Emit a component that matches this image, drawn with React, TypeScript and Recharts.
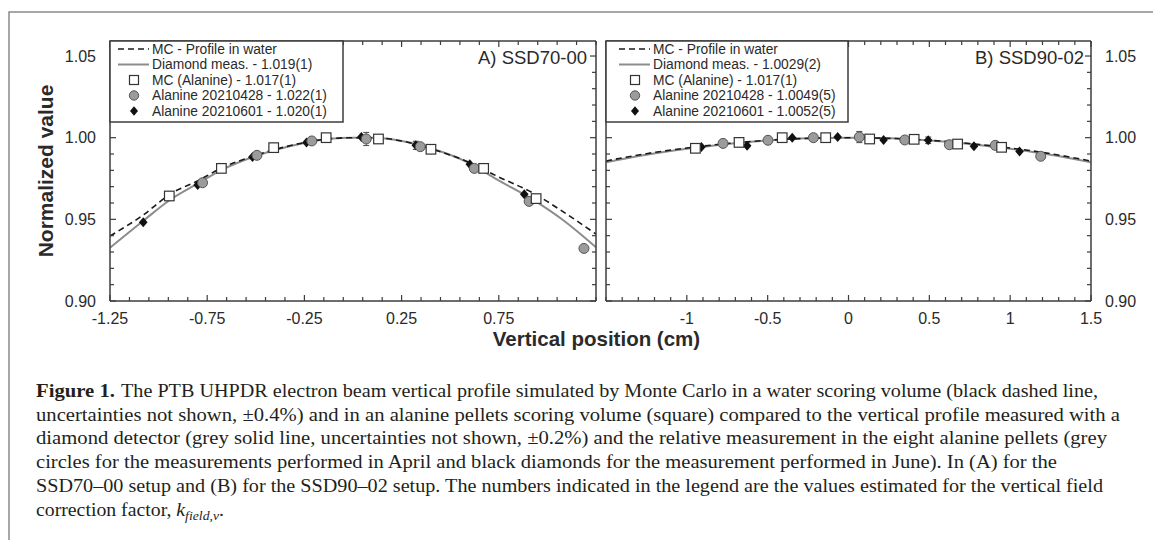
import React from 'react';
import { ComposedChart, Line, Scatter, XAxis, YAxis, ErrorBar } from 'recharts';

const AX = '#3c3c3c';
const TXT = '#2a2a2a';
const SANS = '"Liberation Sans", Arial, Helvetica, sans-serif';
const SERIF = '"Liberation Serif", "Times New Roman", serif';

// ---------- Panel A) SSD70-00 ----------
const aCurvePos = [-1.25, -1.08, -0.94, -0.8, -0.68, -0.5, -0.25, -0.12, 0, 0.1, 0.25, 0.4, 0.6, 0.74, 0.94, 1.08, 1.25];
const aDiamondCurve = [0.9326, 0.949, 0.962, 0.9718, 0.98, 0.9888, 0.9968, 0.9994, 1.0, 1.0, 0.998, 0.9935, 0.9843, 0.9745, 0.961, 0.9496, 0.9329];
const aWaterCurve = [0.9398, 0.9526, 0.9655, 0.9735, 0.9812, 0.9892, 0.997, 0.9994, 1.0, 1.0, 0.998, 0.9932, 0.9848, 0.9765, 0.9652, 0.9547, 0.941];
const aMcPos = [-0.945, -0.677, -0.408, -0.138, 0.131, 0.401, 0.672, 0.942];
const aMcVal = [0.9643, 0.9812, 0.9939, 1.0, 0.9992, 0.9929, 0.9812, 0.9627];
const aAprPos = [-0.774, -0.494, -0.212, 0.068, 0.346, 0.624, 0.906, 1.188];
const aAprVal = [0.9724, 0.9892, 0.998, 0.9992, 0.9945, 0.9812, 0.961, 0.9322];
const aJunPos = [-1.079, -0.799, -0.517, -0.239, 0.043, 0.323, 0.601, 0.881];
const aJunVal = [0.9482, 0.971, 0.9882, 0.9971, 1.0004, 0.9953, 0.9837, 0.9653];
const aErrPos = [0.068, 0.323];
const aErrVal = [0.9992, 0.9953];
const aErrSize = [0.004, 0.0025];
const aXLabels = [-1.25, -0.75, -0.25, 0.25, 0.75];
const aLegend = ['MC - Profile in water', 'Diamond meas. - 1.019(1)', 'MC (Alanine) - 1.017(1)', 'Alanine 20210428 - 1.022(1)', 'Alanine 20210601 - 1.020(1)'];

// ---------- Panel B) SSD90-02 ----------
const bCurvePos = [-1.5, -1.25, -1, -0.75, -0.5, -0.25, 0, 0.25, 0.5, 0.75, 1, 1.25, 1.5];
const bDiamondCurve = [0.9849, 0.9895, 0.9932, 0.9962, 0.9983, 0.9996, 1.0, 0.9996, 0.9983, 0.9962, 0.9932, 0.9895, 0.9849];
const bWaterCurve = [0.9857, 0.9902, 0.9937, 0.9964, 0.9984, 0.9996, 1.0, 0.9996, 0.9984, 0.9964, 0.9937, 0.9902, 0.9857];
const bMcPos = [-0.947, -0.677, -0.41, -0.141, 0.131, 0.406, 0.675, 0.947];
const bMcVal = [0.9935, 0.9971, 1.0, 1.0, 0.9992, 0.999, 0.9961, 0.9941];
const bAprPos = [-0.776, -0.498, -0.217, 0.067, 0.348, 0.624, 0.908, 1.189];
const bAprVal = [0.9965, 0.9984, 1.0, 1.0004, 0.9986, 0.9957, 0.9953, 0.9886];
const bJunPos = [-0.91, -0.627, -0.348, -0.067, 0.217, 0.493, 0.776, 1.058];
const bJunVal = [0.9943, 0.9951, 1.0, 1.0004, 0.9986, 0.9984, 0.9947, 0.9916];
const bErrPos = [0.067, 0.493];
const bErrVal = [1.0004, 0.9984];
const bErrSize = [0.0034, 0.002];
const bXLabels = [-1, -0.5, 0, 0.5, 1, 1.5];
const bLegend = ['MC - Profile in water', 'Diamond meas. - 1.0029(2)', 'MC (Alanine) - 1.017(1)', 'Alanine 20210428 - 1.0049(5)', 'Alanine 20210601 - 1.0052(5)'];

// ---------- shared axis ----------
const yLabels = [0.9, 0.95, 1.0, 1.05];
const Y_DOMAIN: [number, number] = [0.9, 1.0592];

const caption = [
  'The PTB UHPDR electron beam vertical profile simulated by Monte Carlo in a water scoring volume (black dashed line,',
  'uncertainties not shown,  \u00b10.4%) and in an alanine pellets scoring volume (square) compared to the vertical profile measured with a',
  'diamond detector (grey solid line, uncertainties not shown,  \u00b10.2%) and the relative measurement in the eight alanine pellets (grey',
  'circles for the measurements performed in April and black diamonds for the measurement performed in June). In (A) for the',
  'SSD70\u201300 setup and (B) for the SSD90\u201302 setup. The numbers indicated in the legend are the values estimated for the vertical field',
];

const pts = (xs: number[], ys: number[]) => xs.map((x, i) => ({ x, y: ys[i] }));
const errPts = (xs: number[], ys: number[], es: number[]) => xs.map((x, i) => ({ x, y: ys[i], e: es[i] }));
const range = (a: number, b: number, step: number) => {
  const out: number[] = [];
  const n = Math.round((b - a) / step);
  for (let i = 0; i <= n; i++) out.push(+(a + i * step).toFixed(4));
  return out;
};
const isIn = (v: number, arr: number[]) => arr.some((a) => Math.abs(a - v) < 1e-6);

const MAJ = 6;
const MIN = 4;

const bottomTick = (labels: number[]) => (p: any) => {
  const v = p.payload.value;
  const major = isIn(v, labels);
  return (
    <g>
      <line x1={p.x} y1={p.y} x2={p.x} y2={p.y - (major ? MAJ : MIN)} stroke={AX} strokeWidth={1.2} />
      {major && (
        <text x={p.x} y={p.y + 23} textAnchor="middle" fontFamily={SANS} fontSize={16} fill={TXT}>
          {String(v)}
        </text>
      )}
    </g>
  );
};
const topTick = (labels: number[]) => (p: any) => {
  const major = isIn(p.payload.value, labels);
  return <line x1={p.x} y1={p.y} x2={p.x} y2={p.y + (major ? MAJ : MIN)} stroke={AX} strokeWidth={1.2} />;
};
const leftTick = (withLabel: boolean) => (p: any) => {
  const v = p.payload.value;
  const major = isIn(v, yLabels);
  return (
    <g>
      <line x1={p.x} y1={p.y} x2={p.x + (major ? MAJ : MIN)} y2={p.y} stroke={AX} strokeWidth={1.2} />
      {withLabel && major && (
        <text x={p.x - 14} y={p.y + 5.5} textAnchor="end" fontFamily={SANS} fontSize={16} fill={TXT}>
          {v.toFixed(2)}
        </text>
      )}
    </g>
  );
};
const rightTick = (withLabel: boolean) => (p: any) => {
  const v = p.payload.value;
  const major = isIn(v, yLabels);
  return (
    <g>
      <line x1={p.x} y1={p.y} x2={p.x - (major ? MAJ : MIN)} y2={p.y} stroke={AX} strokeWidth={1.2} />
      {withLabel && major && (
        <text x={p.x + 14} y={p.y + 5.5} textAnchor="start" fontFamily={SANS} fontSize={16} fill={TXT}>
          {v.toFixed(2)}
        </text>
      )}
    </g>
  );
};

const SquareShape = (p: any) => (
  <rect x={p.cx - 4.8} y={p.cy - 4.8} width={9.6} height={9.6} fill="#ffffff" stroke="#333" strokeWidth={1.2} />
);
const CircleShape = (p: any) => <circle cx={p.cx} cy={p.cy} r={5} fill="#9b9b9b" stroke="#555" strokeWidth={1} />;
const DiamondShape = (p: any) => (
  <path d={`M${p.cx},${p.cy - 5} L${p.cx + 4.3},${p.cy} L${p.cx},${p.cy + 5} L${p.cx - 4.3},${p.cy} Z`} fill="#111" />
);
const NoShape = () => <g />;

const axisLine = { stroke: AX, strokeWidth: 1.5 };

type PanelProps = {
  width: number;
  margin: { top: number; right: number; bottom: number; left: number };
  xDomain: [number, number];
  xTicks: number[];
  xLabels: number[];
  leftLabels: boolean;
  curvePos: number[];
  diamondCurve: number[];
  waterCurve: number[];
  mcPos: number[];
  mcVal: number[];
  aprPos: number[];
  aprVal: number[];
  junPos: number[];
  junVal: number[];
  errPos: number[];
  errVal: number[];
  errSize: number[];
};

const yTicks = range(0.9, 1.05, 0.01);

function Panel(pp: PanelProps) {
  const diamondLine = pts(pp.curvePos, pp.diamondCurve);
  const waterLine = pts(pp.curvePos, pp.waterCurve);
  return (
    <ComposedChart width={pp.width} height={340} margin={pp.margin}>
      <XAxis
        xAxisId="b"
        type="number"
        dataKey="x"
        orientation="bottom"
        domain={pp.xDomain}
        allowDataOverflow
        ticks={pp.xTicks}
        interval={0}
        tickSize={0}
        tickMargin={0}
        height={30}
        axisLine={axisLine}
        tickLine={false}
        tick={bottomTick(pp.xLabels)}
      />
      <XAxis
        xAxisId="t"
        type="number"
        dataKey="x"
        orientation="top"
        domain={pp.xDomain}
        allowDataOverflow
        ticks={pp.xTicks}
        interval={0}
        tickSize={0}
        tickMargin={0}
        height={1}
        axisLine={axisLine}
        tickLine={false}
        tick={topTick(pp.xLabels)}
      />
      <YAxis
        yAxisId="l"
        type="number"
        dataKey="y"
        orientation="left"
        domain={Y_DOMAIN}
        allowDataOverflow
        ticks={yTicks}
        interval={0}
        tickSize={0}
        tickMargin={0}
        width={pp.leftLabels ? 50 : 1}
        axisLine={axisLine}
        tickLine={false}
        tick={leftTick(pp.leftLabels)}
      />
      <YAxis
        yAxisId="r"
        type="number"
        dataKey="y"
        orientation="right"
        domain={Y_DOMAIN}
        allowDataOverflow
        ticks={yTicks}
        interval={0}
        tickSize={0}
        tickMargin={0}
        width={pp.leftLabels ? 1 : 50}
        axisLine={axisLine}
        tickLine={false}
        tick={rightTick(!pp.leftLabels)}
      />
      <Line
        xAxisId="t"
        yAxisId="r"
        data={diamondLine}
        dataKey="y"
        type="monotone"
        stroke="none"
        strokeOpacity={0}
        dot={false}
        activeDot={false}
        isAnimationActive={false}
      />
      <Line
        xAxisId="b"
        yAxisId="l"
        data={diamondLine}
        dataKey="y"
        type="monotone"
        stroke="#8c8c8c"
        strokeWidth={2}
        dot={false}
        activeDot={false}
        isAnimationActive={false}
      />
      <Line
        xAxisId="b"
        yAxisId="l"
        data={waterLine}
        dataKey="y"
        type="monotone"
        stroke="#1a1a1a"
        strokeWidth={1.6}
        strokeDasharray="6 4"
        dot={false}
        activeDot={false}
        isAnimationActive={false}
      />
      <Scatter
        xAxisId="b"
        yAxisId="l"
        data={errPts(pp.errPos, pp.errVal, pp.errSize)}
        shape={NoShape}
        isAnimationActive={false}
      >
        <ErrorBar dataKey="e" direction="y" width={3} stroke="#555" strokeWidth={1.1} isAnimationActive={false} />
      </Scatter>
      <Scatter xAxisId="b" yAxisId="l" data={pts(pp.junPos, pp.junVal)} shape={DiamondShape} isAnimationActive={false} />
      <Scatter xAxisId="b" yAxisId="l" data={pts(pp.aprPos, pp.aprVal)} shape={CircleShape} isAnimationActive={false} />
      <Scatter xAxisId="b" yAxisId="l" data={pts(pp.mcPos, pp.mcVal)} shape={SquareShape} isAnimationActive={false} />
    </ComposedChart>
  );
}

function LegendBox({ x, w, lineX, markX, textX, labels }: { x: number; w: number; lineX: number; markX: number; textX: number; labels: string[] }) {
  const rows = [49, 64.5, 80, 95.5, 111];
  return (
    <g>
      <rect x={x} y={41} width={w} height={81} fill="#fff" stroke={AX} strokeWidth={1.5} />
      <line x1={lineX} y1={rows[0]} x2={lineX + 31} y2={rows[0]} stroke="#1a1a1a" strokeWidth={1.6} strokeDasharray="6 4" />
      <line x1={lineX} y1={rows[1]} x2={lineX + 31} y2={rows[1]} stroke="#8c8c8c" strokeWidth={2} />
      <rect x={markX - 4.5} y={rows[2] - 4.5} width={9} height={9} fill="#fff" stroke="#333" strokeWidth={1.2} />
      <circle cx={markX} cy={rows[3]} r={4.7} fill="#9b9b9b" stroke="#555" strokeWidth={1} />
      <path d={`M${markX},${rows[4] - 4.7} L${markX + 4},${rows[4]} L${markX},${rows[4] + 4.7} L${markX - 4},${rows[4]} Z`} fill="#111" />
      {labels.map((t, i) => (
        <text key={i} x={textX} y={rows[i] + 4.8} fontFamily={SANS} fontSize={13.8} fill={TXT}>
          {t}
        </text>
      ))}
    </g>
  );
}

export default function App() {
  const captionEnds = [1098, 1120, 1107, 1057, 1103];
  const base = 397;
  const lh = 23.7;
  return (
    <div style={{ position: 'absolute', left: 0, top: 0, width: 1153, height: 540, background: '#fff', overflow: 'hidden' }}>
      <div style={{ position: 'absolute', left: 0, top: 0 }}>
        <Panel
          width={620}
          margin={{ top: 40, right: 23, bottom: 9, left: 60 }}
          xDomain={[-1.25, 1.25]}
          xTicks={range(-1.25, 1.25, 0.1)}
          xLabels={aXLabels}
          leftLabels={true}
          curvePos={aCurvePos}
          diamondCurve={aDiamondCurve}
          waterCurve={aWaterCurve}
          mcPos={aMcPos}
          mcVal={aMcVal}
          aprPos={aAprPos}
          aprVal={aAprVal}
          junPos={aJunPos}
          junVal={aJunVal}
          errPos={aErrPos}
          errVal={aErrVal}
          errSize={aErrSize}
        />
      </div>
      <div style={{ position: 'absolute', left: 600, top: 0 }}>
        <Panel
          width={553}
          margin={{ top: 40, right: 12, bottom: 9, left: 5 }}
          xDomain={[-1.5, 1.5]}
          xTicks={range(-1.5, 1.5, 0.1)}
          xLabels={bXLabels}
          leftLabels={false}
          curvePos={bCurvePos}
          diamondCurve={bDiamondCurve}
          waterCurve={bWaterCurve}
          mcPos={bMcPos}
          mcVal={bMcVal}
          aprPos={bAprPos}
          aprVal={bAprVal}
          junPos={bJunPos}
          junVal={bJunVal}
          errPos={bErrPos}
          errVal={bErrVal}
          errSize={bErrSize}
        />
      </div>
      <svg width={1153} height={540} style={{ position: 'absolute', left: 0, top: 0, pointerEvents: 'none' }}>
        <rect x={9} y={12} width={1170} height={560} fill="none" stroke="#8a8a8a" strokeWidth={1.5} />
        <LegendBox x={110} w={233} lineX={118} markX={134} textX={152} labels={aLegend} />
        <LegendBox x={606} w={242} lineX={619} markX={635} textX={653} labels={bLegend} />
        <text x={587} y={64} textAnchor="end" fontFamily={SANS} fontSize={18.5} fill={TXT}>A) SSD70-00</text>
        <text x={1084} y={64} textAnchor="end" fontFamily={SANS} fontSize={18.5} fill={TXT}>B) SSD90-02</text>
        <text
          x={53}
          y={171}
          transform="rotate(-90 53 171)"
          textAnchor="middle"
          fontFamily={SANS}
          fontWeight="bold"
          fontSize={21}
          fill={TXT}
        >
          Normalized value
        </text>
        <text x={596.5} y={346} textAnchor="middle" fontFamily={SANS} fontWeight="bold" fontSize={20.5} fill={TXT}>
          Vertical position (cm)
        </text>
        <text x={36} y={base} fontFamily={SERIF} fontWeight="bold" fontSize={18} fill="#231f20" textLength={79} lengthAdjust="spacingAndGlyphs">
          Figure 1.
        </text>
        {caption.map((line, i) => {
          const x0 = i === 0 ? 121 : 36;
          return (
            <text
              key={i}
              x={x0}
              y={base + i * lh}
              fontFamily={SERIF}
              fontSize={18}
              fill="#231f20"
              textLength={captionEnds[i] - x0}
              lengthAdjust="spacingAndGlyphs"
            >
              {line}
            </text>
          );
        })}
        <text x={36} y={base + 5 * lh} fontFamily={SERIF} fontSize={18} fill="#231f20" textLength={188} lengthAdjust="spacingAndGlyphs">
          correction factor,{' '}
          <tspan fontStyle="italic">k</tspan>
          <tspan fontStyle="italic" fontSize={12.5} dy={4}>
            field,v
          </tspan>
          <tspan dy={-4}>.</tspan>
        </text>
      </svg>
    </div>
  );
}
